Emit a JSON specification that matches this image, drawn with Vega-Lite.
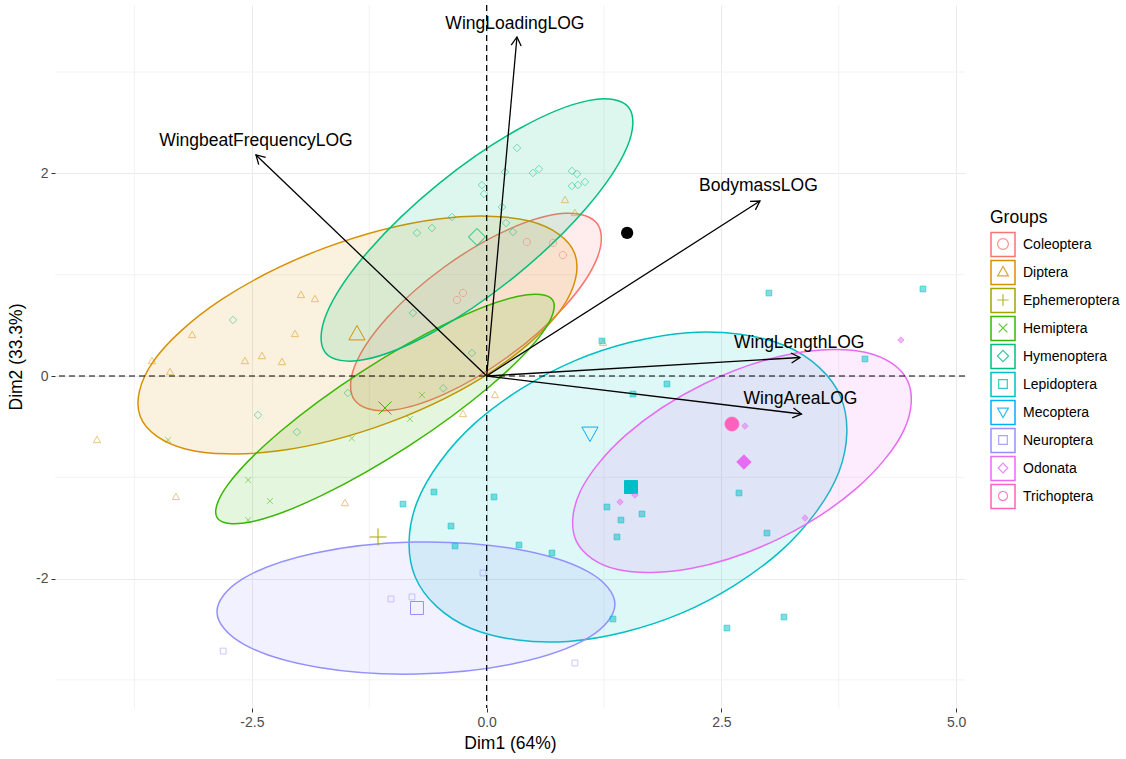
{
  "$schema": "https://vega.github.io/schema/vega-lite/v6.json",
  "width": 910,
  "height": 703,
  "autosize": {"type": "none"},
  "padding": {"left": 55, "top": 5, "right": 161, "bottom": 51},
  "config": {"font": "Liberation Sans", "view": {"stroke": null}},
  "datasets": {
    "gx": [{"v": -3.75}, {"v": -1.25}, {"v": 1.25}, {"v": 3.75}],
    "gy": [{"v": -3}, {"v": -1}, {"v": 1}, {"v": 3}],
    "ell": [
      {"g":"Coleoptera","i":0,"x":1.1783,"y":1.5022},{"g":"Coleoptera","i":1,"x":0.8329,"y":1.6053},{"g":"Coleoptera","i":2,"x":0.2340,"y":1.4474},{"g":"Coleoptera","i":3,"x":-0.4583,"y":1.0711},{"g":"Coleoptera","i":4,"x":-1.0584,"y":0.5770},{"g":"Coleoptera","i":5,"x":-1.4053,"y":0.0977},{"g":"Coleoptera","i":6,"x":-1.4063,"y":-0.2386},{"g":"Coleoptera","i":7,"x":-1.0609,"y":-0.3417},{"g":"Coleoptera","i":8,"x":-0.4620,"y":-0.1838},{"g":"Coleoptera","i":9,"x":0.2303,"y":0.1925},{"g":"Coleoptera","i":10,"x":0.8304,"y":0.6866},{"g":"Coleoptera","i":11,"x":1.1773,"y":1.1659},
      {"g":"Diptera","i":0,"x":0.9384,"y":1.2068},{"g":"Diptera","i":1,"x":0.4549,"y":1.5293},{"g":"Diptera","i":2,"x":-0.5190,"y":1.5505},{"g":"Diptera","i":3,"x":-1.7227,"y":1.2646},{"g":"Diptera","i":4,"x":-2.8334,"y":0.7483},{"g":"Diptera","i":5,"x":-3.5535,"y":0.1401},{"g":"Diptera","i":6,"x":-3.6902,"y":-0.3974},{"g":"Diptera","i":7,"x":-3.2067,"y":-0.7199},{"g":"Diptera","i":8,"x":-2.2328,"y":-0.7411},{"g":"Diptera","i":9,"x":-1.0291,"y":-0.4552},{"g":"Diptera","i":10,"x":0.0816,"y":0.0611},{"g":"Diptera","i":11,"x":0.8017,"y":0.6693},
      {"g":"Hemiptera","i":0,"x":0.7033,"y":0.7494},{"g":"Hemiptera","i":1,"x":0.3363,"y":0.7875},{"g":"Hemiptera","i":2,"x":-0.4109,"y":0.5273},{"g":"Hemiptera","i":3,"x":-1.3383,"y":0.0385},{"g":"Hemiptera","i":4,"x":-2.1973,"y":-0.5479},{"g":"Hemiptera","i":5,"x":-2.7577,"y":-1.0747},{"g":"Hemiptera","i":6,"x":-2.8695,"y":-1.4010},{"g":"Hemiptera","i":7,"x":-2.5025,"y":-1.4391},{"g":"Hemiptera","i":8,"x":-1.7553,"y":-1.1789},{"g":"Hemiptera","i":9,"x":-0.8279,"y":-0.6901},{"g":"Hemiptera","i":10,"x":0.0311,"y":-0.1037},{"g":"Hemiptera","i":11,"x":0.5915,"y":0.4231},
      {"g":"Hymenoptera","i":0,"x":1.5105,"y":2.6527},{"g":"Hymenoptera","i":1,"x":1.0932,"y":2.7206},{"g":"Hymenoptera","i":2,"x":0.3554,"y":2.4456},{"g":"Hymenoptera","i":3,"x":-0.5054,"y":1.9016},{"g":"Hymenoptera","i":4,"x":-1.2584,"y":1.2342},{"g":"Hymenoptera","i":5,"x":-1.7020,"y":0.6224},{"g":"Hymenoptera","i":6,"x":-1.7171,"y":0.2299},{"g":"Hymenoptera","i":7,"x":-1.2998,"y":0.1620},{"g":"Hymenoptera","i":8,"x":-0.5620,"y":0.4370},{"g":"Hymenoptera","i":9,"x":0.2988,"y":0.9810},{"g":"Hymenoptera","i":10,"x":1.0518,"y":1.6484},{"g":"Hymenoptera","i":11,"x":1.4954,"y":2.2602},
      {"g":"Lepidoptera","i":0,"x":3.7693,"y":-0.2049},{"g":"Lepidoptera","i":1,"x":3.1808,"y":0.2982},{"g":"Lepidoptera","i":2,"x":2.1434,"y":0.4278},{"g":"Lepidoptera","i":3,"x":0.9347,"y":0.1491},{"g":"Lepidoptera","i":4,"x":-0.1212,"y":-0.4632},{"g":"Lepidoptera","i":5,"x":-0.7414,"y":-1.2448},{"g":"Lepidoptera","i":6,"x":-0.7597,"y":-1.9867},{"g":"Lepidoptera","i":7,"x":-0.1712,"y":-2.4898},{"g":"Lepidoptera","i":8,"x":0.8662,"y":-2.6194},{"g":"Lepidoptera","i":9,"x":2.0749,"y":-2.3407},{"g":"Lepidoptera","i":10,"x":3.1308,"y":-1.7284},{"g":"Lepidoptera","i":11,"x":3.7510,"y":-0.9468},
      {"g":"Neuroptera","i":0,"x":1.3659,"y":-2.2491},{"g":"Neuroptera","i":1,"x":1.0746,"y":-1.9289},{"g":"Neuroptera","i":2,"x":0.2938,"y":-1.7055},{"g":"Neuroptera","i":3,"x":-0.7676,"y":-1.6388},{"g":"Neuroptera","i":4,"x":-1.8250,"y":-1.7467},{"g":"Neuroptera","i":5,"x":-2.5952,"y":-2.0001},{"g":"Neuroptera","i":6,"x":-2.8717,"y":-2.3313},{"g":"Neuroptera","i":7,"x":-2.5804,"y":-2.6515},{"g":"Neuroptera","i":8,"x":-1.7996,"y":-2.8749},{"g":"Neuroptera","i":9,"x":-0.7382,"y":-2.9416},{"g":"Neuroptera","i":10,"x":0.3192,"y":-2.8337},{"g":"Neuroptera","i":11,"x":1.0894,"y":-2.5803},
      {"g":"Odonata","i":0,"x":4.4800,"y":-0.0428},{"g":"Odonata","i":1,"x":4.0432,"y":0.2321},{"g":"Odonata","i":2,"x":3.2517,"y":0.2199},{"g":"Odonata","i":3,"x":2.3173,"y":-0.0760},{"g":"Odonata","i":4,"x":1.4905,"y":-0.5765},{"g":"Odonata","i":5,"x":0.9928,"y":-1.1471},{"g":"Odonata","i":6,"x":0.9576,"y":-1.6354},{"g":"Odonata","i":7,"x":1.3944,"y":-1.9103},{"g":"Odonata","i":8,"x":2.1859,"y":-1.8981},{"g":"Odonata","i":9,"x":3.1203,"y":-1.6022},{"g":"Odonata","i":10,"x":3.9471,"y":-1.1017},{"g":"Odonata","i":11,"x":4.4448,"y":-0.5311}
    ],
    "pts": [
      {"g":"Coleoptera","k":"ind","x":0.428,"y":1.323},{"g":"Coleoptera","k":"ind","x":0.706,"y":1.313},{"g":"Coleoptera","k":"ind","x":0.812,"y":1.194},{"g":"Coleoptera","k":"ind","x":-0.316,"y":0.750},{"g":"Coleoptera","k":"ind","x":-0.252,"y":0.819},
      {"g":"Diptera","k":"ind","x":-4.150,"y":-0.632},{"g":"Diptera","k":"ind","x":-3.309,"y":-1.194},{"g":"Diptera","k":"ind","x":-1.509,"y":-1.254},{"g":"Diptera","k":"ind","x":-3.564,"y":0.148},{"g":"Diptera","k":"ind","x":-3.372,"y":0.039},{"g":"Diptera","k":"ind","x":-3.136,"y":0.405},{"g":"Diptera","k":"ind","x":-2.574,"y":0.148},{"g":"Diptera","k":"ind","x":-2.393,"y":0.197},{"g":"Diptera","k":"ind","x":-2.180,"y":0.138},{"g":"Diptera","k":"ind","x":-2.041,"y":0.415},{"g":"Diptera","k":"ind","x":-1.978,"y":0.800},{"g":"Diptera","k":"ind","x":-1.829,"y":0.760},{"g":"Diptera","k":"ind","x":-0.252,"y":-0.375},{"g":"Diptera","k":"ind","x":0.088,"y":-0.188},{"g":"Diptera","k":"ind","x":0.834,"y":1.737},{"g":"Diptera","k":"ind","x":0.940,"y":1.609},{"g":"Diptera","k":"ind","x":1.240,"y":0.326},
      {"g":"Diptera","k":"mean","x":-1.381,"y":0.415},
      {"g":"Ephemeroptera","k":"mean","x":-1.157,"y":-1.589},
      {"g":"Hemiptera","k":"ind","x":-2.540,"y":-1.027},{"g":"Hemiptera","k":"ind","x":-2.308,"y":-1.234},{"g":"Hemiptera","k":"ind","x":-2.540,"y":-1.422},{"g":"Hemiptera","k":"ind","x":-0.817,"y":-0.424},{"g":"Hemiptera","k":"ind","x":-0.689,"y":-0.188},{"g":"Hemiptera","k":"ind","x":-1.436,"y":-0.615},{"g":"Hemiptera","k":"ind","x":-3.392,"y":-0.632},
      {"g":"Hemiptera","k":"mean","x":-1.083,"y":-0.316},
      {"g":"Hymenoptera","k":"ind","x":0.323,"y":2.251},{"g":"Hymenoptera","k":"ind","x":0.195,"y":2.014},{"g":"Hymenoptera","k":"ind","x":0.493,"y":2.004},{"g":"Hymenoptera","k":"ind","x":0.557,"y":2.043},{"g":"Hymenoptera","k":"ind","x":0.908,"y":2.024},{"g":"Hymenoptera","k":"ind","x":0.962,"y":1.994},{"g":"Hymenoptera","k":"ind","x":0.908,"y":1.876},{"g":"Hymenoptera","k":"ind","x":0.972,"y":1.885},{"g":"Hymenoptera","k":"ind","x":1.047,"y":1.915},{"g":"Hymenoptera","k":"ind","x":-0.050,"y":1.885},{"g":"Hymenoptera","k":"ind","x":-0.029,"y":1.797},{"g":"Hymenoptera","k":"ind","x":0.163,"y":1.668},{"g":"Hymenoptera","k":"ind","x":0.206,"y":1.510},{"g":"Hymenoptera","k":"ind","x":-0.742,"y":1.412},{"g":"Hymenoptera","k":"ind","x":-0.583,"y":1.461},{"g":"Hymenoptera","k":"ind","x":-0.370,"y":1.570},{"g":"Hymenoptera","k":"ind","x":0.280,"y":1.422},{"g":"Hymenoptera","k":"ind","x":-2.702,"y":0.553},{"g":"Hymenoptera","k":"ind","x":-2.436,"y":-0.385},{"g":"Hymenoptera","k":"ind","x":-2.021,"y":-0.553},{"g":"Hymenoptera","k":"ind","x":-1.478,"y":-0.168},{"g":"Hymenoptera","k":"ind","x":-0.785,"y":0.622},{"g":"Hymenoptera","k":"ind","x":-0.462,"y":-0.121},{"g":"Hymenoptera","k":"ind","x":-0.157,"y":0.227},
      {"g":"Hymenoptera","k":"mean","x":-0.103,"y":1.372},
      {"g":"Lepidoptera","k":"ind","x":1.228,"y":0.346},{"g":"Lepidoptera","k":"ind","x":1.920,"y":-0.079},{"g":"Lepidoptera","k":"ind","x":1.558,"y":-0.178},{"g":"Lepidoptera","k":"ind","x":-0.561,"y":-1.145},{"g":"Lepidoptera","k":"ind","x":-0.891,"y":-1.264},{"g":"Lepidoptera","k":"ind","x":-0.380,"y":-1.481},{"g":"Lepidoptera","k":"ind","x":0.078,"y":-1.194},{"g":"Lepidoptera","k":"ind","x":-0.337,"y":-1.678},{"g":"Lepidoptera","k":"ind","x":0.344,"y":-1.668},{"g":"Lepidoptera","k":"ind","x":0.695,"y":-1.747},{"g":"Lepidoptera","k":"ind","x":1.281,"y":-1.293},{"g":"Lepidoptera","k":"ind","x":1.430,"y":-1.422},{"g":"Lepidoptera","k":"ind","x":1.654,"y":-1.362},{"g":"Lepidoptera","k":"ind","x":1.388,"y":-1.589},{"g":"Lepidoptera","k":"ind","x":3.006,"y":0.819},{"g":"Lepidoptera","k":"ind","x":4.646,"y":0.859},{"g":"Lepidoptera","k":"ind","x":4.029,"y":0.168},{"g":"Lepidoptera","k":"ind","x":2.687,"y":-1.155},{"g":"Lepidoptera","k":"ind","x":2.985,"y":-1.550},{"g":"Lepidoptera","k":"ind","x":1.345,"y":-2.399},{"g":"Lepidoptera","k":"ind","x":2.559,"y":-2.488},{"g":"Lepidoptera","k":"ind","x":3.166,"y":-2.379},
      {"g":"Lepidoptera","k":"mean","x":1.537,"y":-1.096},
      {"g":"Mecoptera","k":"mean","x":1.100,"y":-0.563},
      {"g":"Neuroptera","k":"ind","x":-2.806,"y":-2.715},{"g":"Neuroptera","k":"ind","x":-1.019,"y":-2.201},{"g":"Neuroptera","k":"ind","x":-0.796,"y":-2.181},{"g":"Neuroptera","k":"ind","x":-0.039,"y":-1.944},{"g":"Neuroptera","k":"ind","x":0.940,"y":-2.833},
      {"g":"Neuroptera","k":"mean","x":-0.742,"y":-2.290},
      {"g":"Odonata","k":"ind","x":4.411,"y":0.355},{"g":"Odonata","k":"ind","x":2.751,"y":-0.494},{"g":"Odonata","k":"ind","x":1.420,"y":-1.244},{"g":"Odonata","k":"ind","x":3.390,"y":-1.402},{"g":"Odonata","k":"ind","x":1.579,"y":-1.175},
      {"g":"Odonata","k":"mean","x":2.740,"y":-0.849},
      {"g":"Trichoptera","k":"mean","x":2.612,"y":-0.474}
    ],
    "arrows": [
      {"v":"WingLoadingLOG","x":0.3227,"y":3.3465,"lx":0.301,"ly":3.475},
      {"v":"WingbeatFrequencyLOG","x":-2.4569,"y":2.1816,"lx":-2.457,"ly":2.32},
      {"v":"BodymassLOG","x":2.9105,"y":1.7275,"lx":2.894,"ly":1.876},
      {"v":"WingLengthLOG","x":3.3365,"y":0.1826,"lx":3.328,"ly":0.326},
      {"v":"WingAreaLOG","x":3.3525,"y":-0.3751,"lx":3.342,"ly":-0.227}
    ],
    "heads": [
      {"v":"WingLoadingLOG","k":0,"x":0.2614,"y":3.2657},{"v":"WingLoadingLOG","k":1,"x":0.3227,"y":3.3465},{"v":"WingLoadingLOG","k":2,"x":0.3674,"y":3.2570},
      {"v":"WingbeatFrequencyLOG","k":0,"x":-2.4272,"y":2.0869},{"v":"WingbeatFrequencyLOG","k":1,"x":-2.4569,"y":2.1816},{"v":"WingbeatFrequencyLOG","k":2,"x":-2.3535,"y":2.1581},
      {"v":"BodymassLOG","k":0,"x":2.8042,"y":1.7230},{"v":"BodymassLOG","k":1,"x":2.9105,"y":1.7275},{"v":"BodymassLOG","k":2,"x":2.8616,"y":1.6399},
      {"v":"WingLengthLOG","k":0,"x":3.2413,"y":0.2268},{"v":"WingLengthLOG","k":1,"x":3.3365,"y":0.1826},{"v":"WingLengthLOG","k":2,"x":3.2476,"y":0.1283},
      {"v":"WingAreaLOG","k":0,"x":3.2673,"y":-0.3159},{"v":"WingAreaLOG","k":1,"x":3.3525,"y":-0.3751},{"v":"WingAreaLOG","k":2,"x":3.2545,"y":-0.4139}
    ],
    "sup": [{"x":1.496,"y":1.412}]
  },
  "layer": [
    {
      "data": {"name": "gx"},
      "mark": {"type": "rule", "color": "#F2F2F2", "strokeWidth": 1},
      "encoding": {"x": {"field": "v", "type": "quantitative"}}
    },
    {
      "data": {"name": "gy"},
      "mark": {"type": "rule", "color": "#F2F2F2", "strokeWidth": 1},
      "encoding": {"y": {"field": "v", "type": "quantitative"}}
    },
    {
      "data": {"name": "ell"},
      "mark": {"type": "line", "interpolate": "cardinal-closed", "strokeWidth": 1.5, "fillOpacity": 0.13},
      "encoding": {
        "x": {"field": "x", "type": "quantitative", "scale": {"domain": [-4.597, 5.094], "nice": false, "zero": false},
          "axis": {"title": "Dim1 (64%)", "values": [-2.5, 0, 2.5, 5],
            "labelExpr": "datum.value == -2.5 ? '-2.5' : datum.value == 0 ? '0.0' : datum.value == 2.5 ? '2.5' : '5.0'",
            "domain": false, "grid": true, "gridColor": "#EBEBEB", "gridWidth": 1,
            "ticks": true, "tickColor": "#333333", "tickSize": 4, "tickWidth": 1,
            "labelFontSize": 14, "labelColor": "#4D4D4D", "labelPadding": 3, "labelFlush": false, "labelOverlap": false,
            "titleFontSize": 17.5, "titleFontWeight": "normal", "titleColor": "#000000", "titlePadding": 5}},
        "y": {"field": "y", "type": "quantitative", "scale": {"domain": [-3.277, 3.662], "nice": false, "zero": false},
          "axis": {"title": "Dim2 (33.3%)", "values": [-2, 0, 2],
            "labelExpr": "datum.value == -2 ? '-2' : datum.value == 0 ? '0' : '2'",
            "domain": false, "grid": true, "gridColor": "#EBEBEB", "gridWidth": 1,
            "ticks": true, "tickColor": "#333333", "tickSize": 4, "tickWidth": 1,
            "labelFontSize": 14, "labelColor": "#4D4D4D", "labelPadding": 3, "labelFlush": false, "labelOverlap": false,
            "titleFontSize": 17.5, "titleFontWeight": "normal", "titleColor": "#000000", "titlePadding": 10}},
        "order": {"field": "i", "type": "quantitative"},
        "stroke": {"field": "g", "type": "nominal",
          "scale": {"domain": ["Coleoptera", "Diptera", "Ephemeroptera", "Hemiptera", "Hymenoptera", "Lepidoptera", "Mecoptera", "Neuroptera", "Odonata", "Trichoptera"],
            "range": ["#F8766D", "#D89000", "#A3A500", "#39B600", "#00BF7D", "#00BFC4", "#00B0F6", "#9590FF", "#E76BF3", "#FF62BC"]},
          "legend": {"title": "Groups", "orient": "none", "legendX": 935, "legendY": 204, "padding": 0, "zindex": 0,
            "symbolType": "square", "symbolSize": 576, "symbolStrokeWidth": 1.5, "symbolFillColor": "transparent",
            "titleFontSize": 17.5, "titleFontWeight": "normal", "titleColor": "#000000", "titlePadding": 5,
            "labelFontSize": 14, "labelColor": "#000000", "labelOffset": 7, "rowPadding": -3.7}},
        "fill": {"field": "g", "type": "nominal",
          "scale": {"range": ["#F8766D", "#D89000", "#39B600", "#00BF7D", "#00BFC4", "#9590FF", "#E76BF3"]},
          "legend": null}
      }
    },
    {
      "data": {"name": "pts"},
      "mark": {"type": "point", "filled": false, "strokeWidth": 1},
      "encoding": {
        "x": {"field": "x", "type": "quantitative"},
        "y": {"field": "y", "type": "quantitative"},
        "color": {"field": "g", "type": "nominal",
          "scale": {"range": ["#F8766D", "#D89000", "#A3A500", "#39B600", "#00BF7D", "#00BFC4", "#00B0F6", "#9590FF", "#E76BF3", "#FF62BC"]},
          "legend": {"title": null, "orient": "none", "legendX": 935, "legendY": 226, "padding": 0, "zindex": 1,
            "symbolSize": 576, "symbolStrokeWidth": 1.2, "symbolOpacity": 0.8,
            "labelFontSize": 14, "labelExpr": "''", "labelOffset": 7, "rowPadding": -3.7}},
        "shape": {"field": "g", "type": "nominal",
          "scale": {"range": [
              "M-1.0125,-1.0125M1.0125,1.0125M0.45,0A0.45,0.45,0,1,1,-0.45,0A0.45,0.45,0,1,1,0.45,0Z",
              "M-1.0125,-1.0125M1.0125,1.0125M0,-0.47L0.45,0.33L-0.45,0.33Z",
              "M-1.0125,-1.0125M1.0125,1.0125M-0.47,0L0.47,0M0,-0.47L0,0.47",
              "M-1.0125,-1.0125M1.0125,1.0125M-0.36,-0.36L0.36,0.36M-0.36,0.36L0.36,-0.36",
              "M-1.0125,-1.0125M1.0125,1.0125M0,-0.47L0.47,0L0,0.47L-0.47,0Z",
              "M-1.0125,-1.0125M1.0125,1.0125M-0.36,-0.36L0.36,-0.36L0.36,0.36L-0.36,0.36Z",
              "M-1.0125,-1.0125M1.0125,1.0125M0,0.47L0.45,-0.33L-0.45,-0.33Z",
              "M-1.0125,-1.0125M1.0125,1.0125M-0.36,-0.36L0.36,-0.36L0.36,0.36L-0.36,0.36Z",
              "M-1.0125,-1.0125M1.0125,1.0125M0,-0.4L0.4,0L0,0.4L-0.4,0Z",
              "M-1.0125,-1.0125M1.0125,1.0125M0.38,0A0.38,0.38,0,1,1,-0.38,0A0.38,0.38,0,1,1,0.38,0Z"]},
          "legend": {"title": null, "orient": "none", "legendX": 935, "legendY": 226, "padding": 0, "zindex": 1,
            "symbolSize": 576, "symbolStrokeWidth": 1.2, "symbolOpacity": 0.8,
            "labelFontSize": 14, "labelExpr": "''", "labelOffset": 7, "rowPadding": -3.7}},
        "size": {"field": "k", "type": "nominal", "scale": {"domain": ["ind", "mean"], "range": [260, 1300]}, "legend": null},
        "opacity": {"field": "k", "type": "nominal", "scale": {"domain": ["ind", "mean"], "range": [0.5, 1]}, "legend": null}
      }
    },
    {
      "data": {"name": "pts"},
      "transform": [{"filter": {"field": "g", "equal": "Lepidoptera"}}],
      "mark": {"type": "point", "filled": true, "strokeWidth": 0, "color": "#00BFC4",
        "shape": "M-0.36,-0.36L0.36,-0.36L0.36,0.36L-0.36,0.36Z"},
      "encoding": {
        "x": {"field": "x", "type": "quantitative"},
        "y": {"field": "y", "type": "quantitative"},
        "size": {"field": "k", "type": "nominal", "legend": null},
        "opacity": {"field": "k", "type": "nominal", "legend": null}
      }
    },
    {
      "data": {"name": "pts"},
      "transform": [{"filter": {"field": "g", "equal": "Odonata"}}],
      "mark": {"type": "point", "filled": true, "strokeWidth": 0, "color": "#E76BF3",
        "shape": "M0,-0.4L0.4,0L0,0.4L-0.4,0Z"},
      "encoding": {
        "x": {"field": "x", "type": "quantitative"},
        "y": {"field": "y", "type": "quantitative"},
        "size": {"field": "k", "type": "nominal", "legend": null},
        "opacity": {"field": "k", "type": "nominal", "legend": null}
      }
    },
    {
      "data": {"name": "pts"},
      "transform": [{"filter": {"field": "g", "equal": "Trichoptera"}}],
      "mark": {"type": "point", "filled": true, "strokeWidth": 0, "color": "#FF62BC",
        "shape": "M0.38,0A0.38,0.38,0,1,1,-0.38,0A0.38,0.38,0,1,1,0.38,0Z"},
      "encoding": {
        "x": {"field": "x", "type": "quantitative"},
        "y": {"field": "y", "type": "quantitative"},
        "size": {"field": "k", "type": "nominal", "legend": null},
        "opacity": {"field": "k", "type": "nominal", "legend": null}
      }
    },
    {
      "data": {"name": "sup"},
      "mark": {"type": "point", "filled": true, "shape": "circle", "size": 150, "color": "#000000", "opacity": 1},
      "encoding": {
        "x": {"field": "x", "type": "quantitative"},
        "y": {"field": "y", "type": "quantitative"}
      }
    },
    {
      "data": {"values": [{}]},
      "mark": {"type": "rule", "strokeDash": [6, 4], "strokeWidth": 1.2, "color": "#000000"},
      "encoding": {"x": {"datum": 0, "type": "quantitative"}}
    },
    {
      "data": {"values": [{}]},
      "mark": {"type": "rule", "strokeDash": [6, 4], "strokeWidth": 1.2, "color": "#000000"},
      "encoding": {"y": {"datum": 0, "type": "quantitative"}}
    },
    {
      "data": {"name": "arrows"},
      "mark": {"type": "rule", "strokeWidth": 1.3, "color": "#000000"},
      "encoding": {
        "x": {"field": "x", "type": "quantitative"},
        "y": {"field": "y", "type": "quantitative"},
        "x2": {"datum": 0},
        "y2": {"datum": 0}
      }
    },
    {
      "data": {"name": "heads"},
      "mark": {"type": "line", "strokeWidth": 1.3, "color": "#000000"},
      "encoding": {
        "x": {"field": "x", "type": "quantitative"},
        "y": {"field": "y", "type": "quantitative"},
        "detail": {"field": "v", "type": "nominal"},
        "order": {"field": "k", "type": "quantitative"}
      }
    },
    {
      "data": {"name": "arrows"},
      "mark": {"type": "text", "fontSize": 17.5, "color": "#000000", "align": "center", "baseline": "middle"},
      "encoding": {
        "x": {"field": "lx", "type": "quantitative"},
        "y": {"field": "ly", "type": "quantitative"},
        "text": {"field": "v", "type": "nominal"}
      }
    }
  ]
}
